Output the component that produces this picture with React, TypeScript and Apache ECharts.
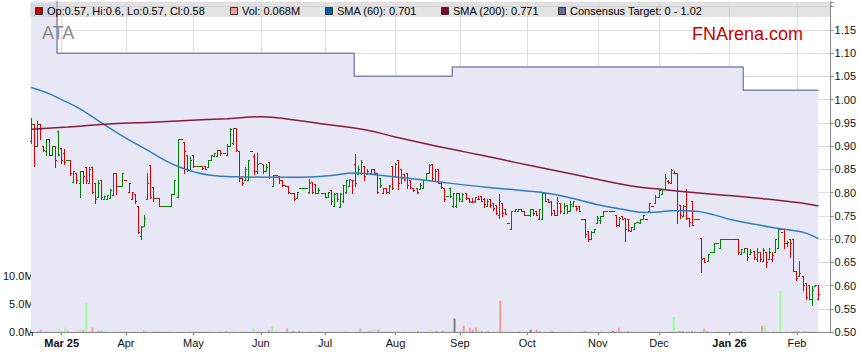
import React, { useEffect, useRef } from 'react';
import * as echarts from 'echarts';

// ---------- data ----------
const AXIS_START = '2025-02-17';
const AXIS_END = '2026-02-17';
const MONTHS = ['Jan', 'Feb', 'Mar', 'Apr', 'May', 'Jun', 'Jul', 'Aug', 'Sep', 'Oct', 'Nov', 'Dec'];

// daily bars from 2025-02-17, one per weekday: [open, high, low, close]
const PRICE_ROWS: number[][] = [
  [.91,.96,.905,.946],[.946,.946,.856,.90],[.90,.953,.90,.946],[.946,.946,.915,.935],[.90,.90,.888,.89],
  [.888,.915,.88,.915],[.915,.915,.88,.88],[.88,.90,.88,.90],[.90,.90,.855,.87],[.931,.931,.88,.88],
  [.895,.895,.863,.87],[.885,.892,.86,.865],[.87,.87,.87,.87],[.87,.87,.836,.84],[.821,.845,.821,.845],
  [.842,.842,.82,.825],[.82,.845,.79,.845],[.845,.845,.82,.835],[.855,.855,.82,.827],[.82,.853,.82,.85],
  [.855,.855,.798,.80],[.82,.82,.776,.785],[.79,.827,.79,.82],[.827,.827,.785,.79],[.785,.792,.785,.792],
  [.786,.793,.786,.793],[.787,.806,.787,.805],[.793,.84,.793,.84],[.84,.84,.795,.814],[.814,.814,.814,.814],
  [.813,.84,.813,.84],[.827,.827,.827,.827],[.80,.82,.80,.82],[.785,.80,.785,.80],[.795,.795,.776,.78],
  [.769,.769,.711,.715],[.705,.727,.698,.725],[.727,.75,.727,.745],[.786,.84,.786,.82],[.858,.858,.788,.79],
  [.81,.81,.78,.788],[.788,.788,.788,.788],[.788,.788,.769,.769],[.769,.769,.769,.769],[.769,.769,.769,.769],
  [.769,.769,.769,.769],[.769,.795,.769,.795],[.795,.827,.795,.827],[.79,.915,.79,.915],[.915,.915,.915,.915],
  [.908,.908,.84,.888],[.88,.88,.845,.85],[.848,.875,.848,.87],[.88,.88,.853,.856],[.856,.856,.856,.856],
  [.856,.856,.856,.856],[.856,.856,.85,.852],[.856,.856,.85,.85],[.853,.87,.853,.87],[.87,.88,.87,.88],
  [.878,.885,.878,.885],[.878,.89,.878,.89],[.89,.89,.88,.883],[.885,.885,.885,.885],[.88,.903,.88,.90],
  [.90,.938,.899,.935],[.906,.938,.903,.938],[.938,.938,.888,.89],[.888,.888,.823,.83],[.83,.83,.815,.82],
  [.827,.853,.827,.85],[.827,.87,.827,.868],[.888,.888,.888,.888],[.877,.881,.838,.845],[.845,.885,.84,.86],
  [.863,.863,.863,.863],[.86,.86,.84,.845],[.845,.86,.845,.855],[.865,.865,.83,.832],[.813,.836,.813,.836],
  [.836,.836,.836,.836],[.835,.835,.82,.825],[.827,.827,.813,.815],[.815,.815,.813,.813],[.813,.813,.798,.80],
  [.798,.798,.798,.798],[.798,.798,.783,.785],[.788,.80,.788,.80],[.809,.809,.809,.809],[.809,.809,.809,.809],
  [.809,.809,.809,.809],[.80,.828,.797,.82],[.821,.821,.797,.80],[.818,.818,.797,.798],[.797,.809,.797,.805],
  [.798,.798,.798,.798],[.798,.798,.79,.79],[.79,.80,.79,.80],[.804,.804,.775,.78],[.769,.798,.769,.795],
  [.798,.798,.78,.785],[.768,.798,.768,.795],[.78,.816,.778,.815],[.80,.827,.798,.825],[.813,.829,.813,.829],
  [.827,.827,.798,.826],[.86,.881,.813,.82],[.838,.856,.838,.85],[.84,.87,.838,.865],[.856,.856,.827,.835],
  [.838,.85,.838,.845],[.84,.85,.838,.85],[.85,.85,.838,.84],[.842,.842,.798,.80],[.831,.831,.81,.815],
  [.798,.809,.798,.809],[.809,.809,.798,.80],[.80,.816,.798,.812],[.856,.856,.807,.808],[.834,.863,.834,.86],
  [.87,.87,.806,.82],[.849,.849,.82,.83],[.838,.838,.827,.827],[.842,.842,.809,.815],[.826,.826,.809,.81],
  [.809,.809,.802,.805],[.809,.809,.798,.80],[.806,.82,.806,.815],[.809,.827,.809,.827],[.827,.842,.827,.842],
  [.842,.86,.842,.858],[.86,.86,.827,.83],[.824,.85,.824,.845],[.85,.85,.82,.82],[.82,.82,.809,.81],
  [.809,.809,.78,.785],[.791,.791,.791,.791],[.809,.809,.79,.791],[.77,.798,.768,.798],[.77,.798,.768,.798],
  [.798,.798,.78,.785],[.78,.798,.78,.795],[.798,.798,.784,.788],[.788,.788,.778,.78],[.778,.788,.778,.779],
  [.78,.79,.778,.79],[.786,.791,.784,.786],[.791,.791,.78,.78],[.784,.788,.768,.775],[.77,.784,.77,.78],
  [.784,.784,.768,.772],[.777,.777,.761,.765],[.773,.773,.752,.755],[.75,.795,.745,.78],[.777,.777,.748,.755],
  [.763,.763,.752,.752],[.734,.734,.734,.734],[.72,.759,.72,.759],[.759,.763,.759,.763],[.76,.764,.759,.764],
  [.764,.764,.759,.76],[.759,.759,.75,.75],[.75,.75,.75,.75],[.75,.764,.748,.764],[.764,.764,.75,.755],
  [.759,.759,.75,.75],[.741,.763,.741,.763],[.741,.798,.741,.798],[.798,.798,.78,.78],[.784,.784,.778,.779],
  [.78,.78,.75,.755],[.761,.761,.75,.75],[.75,.79,.75,.78],[.777,.777,.754,.76],[.755,.777,.755,.77],
  [.773,.773,.754,.76],[.76,.78,.759,.775],[.77,.78,.77,.78],[.77,.77,.761,.765],[.77,.77,.759,.76],
  [.741,.741,.741,.741],[.741,.741,.704,.71],[.716,.716,.694,.70],[.70,.716,.70,.715],[.715,.72,.715,.72],
  [.734,.748,.734,.745],[.74,.748,.734,.748],[.748,.759,.748,.759],[.76,.76,.76,.76],[.76,.76,.76,.76],
  [.76,.76,.76,.76],[.75,.75,.728,.73],[.73,.747,.728,.745],[.748,.748,.741,.741],[.744,.744,.695,.72],
  [.741,.741,.716,.718],[.716,.725,.716,.725],[.72,.734,.72,.734],[.735,.735,.735,.735],[.734,.741,.734,.741],
  [.741,.75,.741,.75],[.741,.741,.741,.741],[.76,.776,.76,.776],[.77,.77,.77,.77],[.777,.793,.777,.79],
  [.79,.807,.79,.805],[.795,.806,.795,.806],[.806,.838,.806,.83],[.824,.826,.82,.822],[.82,.85,.82,.848],
  [.842,.845,.84,.842],[.842,.842,.734,.76],[.773,.773,.745,.75],[.748,.773,.748,.77],[.77,.806,.741,.745],
  [.745,.745,.728,.735],[.78,.78,.73,.73],[.741,.741,.741,.741],[.741,.741,.741,.741],[.702,.702,.628,.655],
  [.658,.658,.649,.65],[.652,.666,.652,.666],[.67,.67,.67,.67],[.67,.69,.67,.69],[.69,.69,.69,.69],
  [.68,.698,.68,.698],[.698,.698,.698,.698],[.698,.698,.698,.698],[.698,.698,.698,.698],[.698,.70,.698,.70],
  [.70,.70,.70,.698],[.70,.70,.666,.67],[.666,.678,.666,.678],[.67,.68,.67,.68],[.68,.68,.654,.66],
  [.666,.677,.666,.672],[.673,.673,.655,.66],[.655,.68,.651,.672],[.672,.672,.651,.655],[.651,.68,.651,.675],
  [.672,.672,.639,.65],[.655,.68,.655,.67],[.655,.67,.651,.665],[.67,.70,.67,.70],[.68,.72,.68,.72],
  [.72,.72,.72,.715],[.72,.72,.68,.69],[.69,.695,.684,.692],[.70,.70,.66,.69],[.70,.70,.63,.63],
  [.63,.63,.61,.615],[.619,.651,.619,.626],[.619,.619,.59,.60],[.605,.605,.569,.575],[.599,.599,.57,.57],
  [.57,.598,.558,.59],[.598,.60,.598,.60],[.57,.60,.57,.58],
];

// daily volume, millions of shares
const VOLUME_M: number[] = [
  .1,.42,.08,.05,.06,.1,.05,.6,.08,.77,
  .25,.05,.08,.04,.4,.4,5.2,.1,.77,.08,
  .25,.25,.4,.06,.05,.04,.05,.06,.05,.04,
  .05,.04,.06,.05,.05,.25,.2,.06,.2,.05,
  .05,.04,.05,.03,0,0,.05,.15,.08,0,
  .06,.05,.15,.05,.04,.03,.04,.05,.05,.06,
  .15,.05,.2,.04,.15,.08,.06,.05,.06,.05,
  .06,.6,.05,.08,.06,.05,.4,.95,.06,.15,
  0,.05,.6,.04,.2,.03,.2,.2,.05,.03,
  .03,.05,.06,.05,.04,.03,.04,.05,.06,.05,
  .05,.2,.06,.05,.08,.06,.6,.2,.2,.2,
  .35,.4,.4,.05,.2,.06,.05,.2,.06,.08,
  .06,.05,.04,.06,.05,.15,.05,.2,.2,.4,
  .2,.2,.05,.2,.05,.06,.2,2.4,.08,.06,
  1.1,.2,.77,.4,.77,.4,.2,.06,.2,.05,
  .06,.05,5.6,.15,.05,.06,.05,.05,.2,.04,
  .05,.06,.4,.05,.4,.2,.06,.05,.06,.2,
  .05,.06,.05,.04,.05,.06,.05,.04,.05,.06,
  .2,.05,.08,.06,.05,.35,.06,.05,.18,.18,
  .05,.75,.18,.05,.18,.06,.05,.04,.03,.05,
  .05,.06,.18,.05,.18,.06,.05,.08,.06,2.7,
  .08,.2,.2,.05,.06,.2,.08,.05,.04,.6,
  .2,.06,0,0,.04,.05,.03,.03,0,.04,
  .05,.18,.06,.05,.06,.18,.05,.06,1.1,1.1,
  .06,.05,.08,.06,7.3,0,.06,.05,.06,.18,
  .18,.06,.15,.08,.06,.15,.05,.068,
];

// moving averages: [bar index, value]
const SMA60_POINTS: number[][] = [
  [0,1.026],[5,1.015],[10,1.0],[16,0.98],[23,0.95],[30,0.921],[37,0.895],[43,0.872],[48,0.856],[53,0.845],
  [58,0.838],[67,0.834],[78,0.833],[88,0.833],[97,0.836],[106,0.842],[113,0.838],[120,0.833],[132,0.824],
  [142,0.816],[153,0.809],[161,0.804],[169,0.798],[177,0.787],[185,0.774],[193,0.764],[201,0.757],[205,0.758],
  [209,0.761],[214,0.761],[218,0.759],[223,0.752],[229,0.741],[236,0.732],[243,0.724],[251,0.716],[254,0.71],[257,0.701],
];
const SMA200_POINTS: number[][] = [
  [0,0.936],[12,0.941],[24,0.947],[38,0.951],[51,0.955],[64,0.959],[75,0.963],[86,0.956],[96,0.947],[109,0.935],
  [120,0.918],[131,0.902],[142,0.887],[153,0.872],[163,0.858],[175,0.842],[186,0.827],[196,0.814],[207,0.806],
  [218,0.799],[229,0.793],[240,0.786],[251,0.778],[257,0.771],
];

// consensus target steps: [bar index, target]
const CONSENSUS_POINTS: number[][] = [
  [0,1.3],[8,1.3],[9,1.10],[105,1.10],[106,1.05],[137,1.05],[138,1.07],[232,1.07],[233,1.02],[257,1.02],
];

const PRICE_TICKS = { min: 0.5, max: 1.21, step: 0.05 };
const VOLUME_TICKS = { min: 0, max: 10, step: 5 };

// ---------- styles ----------
const FONT = 'Liberation Sans, Arial, sans-serif';
const UP = '#008000';
const DOWN = '#dd0000';
const VOL_UP = '#99ff99';
const VOL_DOWN = '#ff9999';
const VOL_FLAT = '#808080';
const SMA60_COLOR = '#2e7fc0';
const SMA200_COLOR = '#8b1a40';
const TARGET_LINE = '#8585b8';
const TARGET_FILL = '#e7e7f6';
const GRID_COLOR = '#dcdcdc';
const AXIS_COLOR = '#888888';

function buildWeekdays(start: string, end: string): string[] {
  const out: string[] = [];
  const d = new Date(start + 'T00:00:00Z');
  const e = new Date(end + 'T00:00:00Z');
  while (d <= e) {
    const w = d.getUTCDay();
    if (w !== 0 && w !== 6) out.push(d.toISOString().slice(0, 10));
    d.setUTCDate(d.getUTCDate() + 1);
  }
  return out;
}

export default function App() {
  const ref = useRef<HTMLDivElement>(null);

  useEffect(() => {
    document.body.style.margin = '0';
    if (!ref.current) return;
    const chart = echarts.init(ref.current, undefined, { renderer: 'svg' });

    const days = buildWeekdays(AXIS_START, AXIS_END);
    const monthStart = new Set<number>();
    for (let i = 1; i < days.length; i++) {
      if (days[i].slice(5, 7) !== days[i - 1].slice(5, 7)) monthStart.add(i);
    }
    const firstMonth = Math.min(...Array.from(monthStart));
    const isMonth = (idx: number) => monthStart.has(idx);

    const dirs = PRICE_ROWS.map((r, i) => {
      const prev = i === 0 ? r[0] : PRICE_ROWS[i - 1][3];
      return Math.sign(Math.round((r[3] - prev) * 10000));
    });
    const ohlcData = PRICE_ROWS.map((r, i) => [i, r[0], r[1], r[2], r[3], dirs[i]]);
    const volData = VOLUME_M.map((v, i) => ({
      value: v,
      itemStyle: { color: dirs[i] > 0 ? VOL_UP : dirs[i] < 0 ? VOL_DOWN : VOL_FLAT },
    }));

    const last = PRICE_ROWS[PRICE_ROWS.length - 1];
    const fmt = (v: number) => String(Number(v.toFixed(3)));
    const lastVol = VOLUME_M[VOLUME_M.length - 1];
    const lastSma60 = SMA60_POINTS[SMA60_POINTS.length - 1][1];
    const lastSma200 = SMA200_POINTS[SMA200_POINTS.length - 1][1];
    const lastTarget = CONSENSUS_POINTS[CONSENSUS_POINTS.length - 1][1];

    const legendItems = [
      { x: 35, color: '#cc0000', text: `Op:${fmt(last[0])}, Hi:${fmt(last[1])}, Lo:${fmt(last[2])}, Cl:${fmt(last[3])}` },
      { x: 230, color: '#ff9999', text: `Vol: ${lastVol.toFixed(3)}M` },
      { x: 325, color: '#0060a8', text: `SMA (60): ${lastSma60.toFixed(3)}` },
      { x: 441, color: '#800030', text: `SMA (200): ${lastSma200.toFixed(3)}` },
      { x: 558, color: '#6a6aa0', text: `Consensus Target: 0 - ${lastTarget.toFixed(2)}` },
    ];
    const graphics: any[] = [
      { type: 'rect', z: 100, shape: { x: 30, y: 3, width: 800, height: 14 }, style: { fill: 'rgba(200,200,200,0.5)' } },
    ];
    legendItems.forEach((it) => {
      graphics.push({ type: 'rect', z: 101, shape: { x: it.x + 0.5, y: 7.5, width: 7, height: 7 }, style: { fill: it.color, stroke: '#333', lineWidth: 1 } });
      graphics.push({ type: 'text', z: 101, x: it.x + 12, y: 11, style: { text: it.text, fill: '#000', font: `11px ${FONT}`, textVerticalAlign: 'middle' } });
    });
    graphics.push({ type: 'text', z: 101, x: 42, y: 33, style: { text: 'ATA', fill: '#8c8c8c', font: `18px ${FONT}`, textVerticalAlign: 'middle' } });
    graphics.push({ type: 'text', z: 101, x: 692, y: 34, style: { text: 'FNArena.com', fill: '#cc0000', font: `18px ${FONT}`, textVerticalAlign: 'middle' } });

    const option: any = {
      animation: false,
      backgroundColor: '#ffffff',
      grid: [
        { left: 31, right: 27, top: 2, bottom: 31 },
        { left: 31, right: 27, top: 276, bottom: 31 },
      ],
      xAxis: [
        {
          type: 'category', gridIndex: 0, data: days, boundaryGap: false,
          axisLine: { lineStyle: { color: AXIS_COLOR } },
          axisTick: { interval: (i: number) => isMonth(i), length: 3, lineStyle: { color: AXIS_COLOR } },
          axisLabel: {
            interval: (i: number) => isMonth(i), margin: 5, color: '#111', fontFamily: FONT, fontSize: 11,
            formatter: (v: string, i: number) => {
              const m = Number(v.slice(5, 7)) - 1;
              const yy = v.slice(2, 4);
              if (i === firstMonth || m === 0) return `{b|${MONTHS[m]} ${yy}}`;
              return MONTHS[m];
            },
            rich: { b: { fontWeight: 'bold', fontFamily: FONT, fontSize: 11, color: '#111' } },
          },
          splitLine: { show: true, interval: (i: number) => isMonth(i), lineStyle: { color: GRID_COLOR } },
        },
        { type: 'category', gridIndex: 1, data: days, boundaryGap: false, show: false },
      ],
      yAxis: [
        {
          type: 'value', gridIndex: 0, position: 'right', min: PRICE_TICKS.min, max: PRICE_TICKS.max, interval: PRICE_TICKS.step,
          axisLine: { show: true, lineStyle: { color: AXIS_COLOR } },
          axisTick: { show: true, length: 3, lineStyle: { color: AXIS_COLOR } },
          axisLabel: { margin: 4, color: '#111', fontFamily: FONT, fontSize: 11, formatter: (v: number) => (v > 1.16 ? '' : v.toFixed(2)) },
          splitLine: { show: true, lineStyle: { color: GRID_COLOR } },
        },
        {
          type: 'value', gridIndex: 0, position: 'left', min: PRICE_TICKS.min, max: PRICE_TICKS.max, interval: PRICE_TICKS.step,
          axisLine: { show: true, lineStyle: { color: AXIS_COLOR } },
          axisTick: { show: true, inside: true, length: 3, lineStyle: { color: AXIS_COLOR } },
          axisLabel: { show: false }, splitLine: { show: false },
        },
        {
          type: 'value', gridIndex: 1, position: 'left', min: VOLUME_TICKS.min, max: VOLUME_TICKS.max, interval: VOLUME_TICKS.step,
          axisLine: { show: false },
          axisTick: { show: true, length: 3, lineStyle: { color: AXIS_COLOR } },
          axisLabel: { margin: 4, color: '#111', fontFamily: FONT, fontSize: 11, formatter: (v: number) => `${v.toFixed(1)}M` },
          splitLine: { show: false },
        },
      ],
      series: [
        {
          type: 'line', name: 'Consensus', xAxisIndex: 0, yAxisIndex: 0, data: CONSENSUS_POINTS, step: 'middle',
          symbol: 'none', z: 1, lineStyle: { color: TARGET_LINE, width: 1.5 },
          areaStyle: { color: TARGET_FILL, opacity: 1 },
        },
        {
          type: 'bar', name: 'Vol', xAxisIndex: 1, yAxisIndex: 2, data: volData, barWidth: 2, z: 3,
        },
        {
          type: 'custom', name: 'OHLC', xAxisIndex: 0, yAxisIndex: 0, data: ohlcData, z: 4,
          encode: { x: 0, y: [1, 2, 3, 4] },
          renderItem: (_p: any, api: any) => {
            const i = api.value(0);
            const pO = api.coord([i, api.value(1)]);
            const pH = api.coord([i, api.value(2)]);
            const pL = api.coord([i, api.value(3)]);
            const pC = api.coord([i, api.value(4)]);
            const d = api.value(5);
            const px = Math.round(pH[0] - 0.5);
            const x = px + 0.5;
            const yo = Math.floor(pO[1]) + 0.5;
            const yc = Math.floor(pC[1]) + 0.5;
            const st = { stroke: d < 0 ? DOWN : UP, lineWidth: 1 };
            return {
              type: 'group',
              children: [
                { type: 'line', shape: { x1: x, y1: Math.floor(pH[1]), x2: x, y2: Math.floor(pL[1]) + 1 }, style: st },
                { type: 'line', shape: { x1: px - 1, y1: yo, x2: px + 1, y2: yo }, style: st },
                { type: 'line', shape: { x1: px, y1: yc, x2: px + 2, y2: yc }, style: st },
              ],
            };
          },
        },
        {
          type: 'line', name: 'SMA60', xAxisIndex: 0, yAxisIndex: 0, data: SMA60_POINTS, smooth: true,
          symbol: 'none', z: 5, lineStyle: { color: SMA60_COLOR, width: 1.5 },
        },
        {
          type: 'line', name: 'SMA200', xAxisIndex: 0, yAxisIndex: 0, data: SMA200_POINTS, smooth: true,
          symbol: 'none', z: 5, lineStyle: { color: SMA200_COLOR, width: 1.5 },
        },
      ],
      graphic: graphics,
    };

    chart.setOption(option);
    return () => chart.dispose();
  }, []);

  return <div ref={ref} style={{ position: 'fixed', left: 0, top: 0, width: 859, height: 363 }} />;
}
